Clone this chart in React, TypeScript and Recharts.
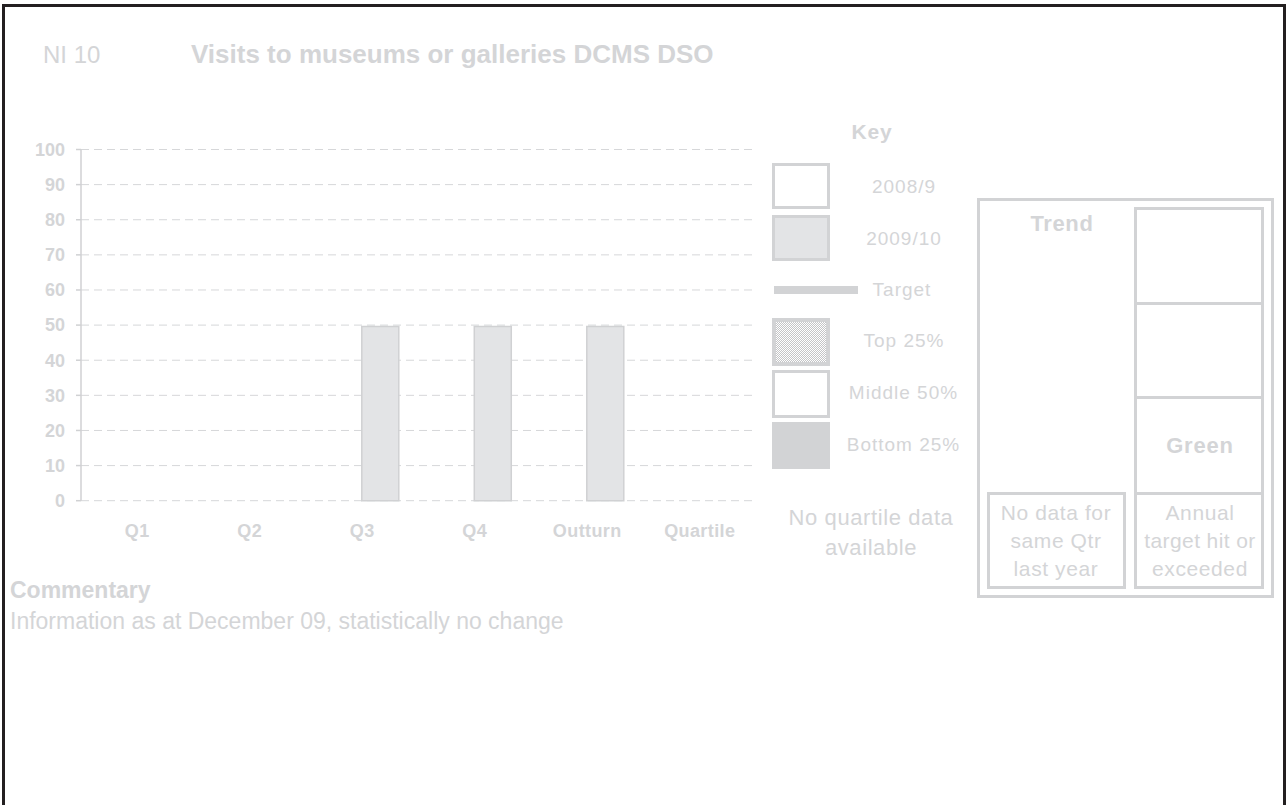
import React from "react";
import { BarChart, Bar, XAxis, YAxis, CartesianGrid } from "recharts";

const categories = ["Q1", "Q2", "Q3", "Q4", "Outturn", "Quartile"];
const values2008 = [null, null, null, null, null, null];
const values2009 = [null, null, 49.6, 49.6, 49.6, null];
const yTicks = [0, 10, 20, 30, 40, 50, 60, 70, 80, 90, 100];
const boundaryTicks = [0, 1, 2, 3, 4, 5, 6];

const data = categories.map((c, i) => ({ cat: c, prev: values2008[i], cur: values2009[i] }));

const FONT = '"Liberation Sans", Arial, sans-serif';
const TXT = "#d4d5d7";
const LINE = "#d0d1d3";
const BORDER = "#d2d3d5";

type TP = { x: number; y: number; size: number; bold?: boolean; anchor?: "start" | "middle"; ls?: number; children: React.ReactNode };
function Txt({ x, y, size, bold, anchor = "start", ls = 0, children }: TP) {
  const lh = size * 1.2;
  const style: React.CSSProperties = {
    position: "absolute",
    top: y - lh / 2,
    lineHeight: lh + "px",
    fontSize: size,
    fontWeight: bold ? "bold" : "normal",
    color: TXT,
    whiteSpace: "nowrap",
    letterSpacing: ls,
  };
  if (anchor === "middle") {
    style.left = x - 200;
    style.width = 400;
    style.textAlign = "center";
  } else {
    style.left = x;
  }
  return <div style={style}>{children}</div>;
}

function Box({ l, t, w, h, b = 3, fill = "#fff", bg }: { l: number; t: number; w: number; h: number; b?: number; fill?: string; bg?: string }) {
  return (
    <div
      style={{
        position: "absolute",
        left: l,
        top: t,
        width: w,
        height: h,
        boxSizing: "border-box",
        border: b ? `${b}px solid ${BORDER}` : "none",
        background: bg ?? fill,
      }}
    />
  );
}

export default function App() {
  return (
    <div
      style={{
        position: "absolute",
        left: 0,
        top: 0,
        width: 1286,
        height: 805,
        overflow: "hidden",
        background: "#fff",
        fontFamily: FONT,
      }}
    >
      <div
        style={{
          position: "absolute",
          left: 2,
          top: 4,
          width: 1284,
          height: 820,
          boxSizing: "border-box",
          borderTop: "3px solid #231f20",
          borderLeft: "3px solid #231f20",
          borderRight: "3px solid #231f20",
        }}
      />

      <Txt x={43} y={55} size={24}>NI 10</Txt>
      <Txt x={191} y={55} size={26} bold>Visits to museums or galleries DCMS DSO</Txt>

      <div style={{ position: "absolute", left: 0, top: 0 }}>
        <BarChart
          width={780}
          height={560}
          data={data}
          margin={{ top: 149.5, right: 24, left: 0, bottom: 19.3 }}
          barCategoryGap="16.7%"
          barGap={0}
        >
          <CartesianGrid
            xAxisId="cat"
            yAxisId="y"
            horizontal={true}
            vertical={false}
            stroke="#d6d7d9"
            strokeDasharray="8 5"
          />
          <XAxis
            xAxisId="bounds"
            type="number"
            domain={[0, 6]}
            ticks={boundaryTicks}
            allowDataOverflow
            height={0}
            tickSize={6}
            tickLine={{ stroke: LINE, strokeWidth: 1.5 }}
            axisLine={{ stroke: LINE, strokeWidth: 2 }}
            tickFormatter={() => ""}
            tick={{ fill: "none" }}
          />
          <XAxis
            xAxisId="cat"
            dataKey="cat"
            height={40}
            axisLine={false}
            tickLine={false}
            tickSize={0}
            tickMargin={24}
            interval={0}
            tick={{ fill: TXT, fontSize: 18, fontWeight: "bold", fontFamily: FONT, letterSpacing: 0.4 }}
          />
          <YAxis
            yAxisId="y"
            width={81}
            domain={[0, 100]}
            ticks={yTicks}
            interval={0}
            tickSize={5}
            tickMargin={11}
            axisLine={{ stroke: LINE, strokeWidth: 1.5 }}
            tickLine={{ stroke: LINE, strokeWidth: 1.5 }}
            tick={{ fill: TXT, fontSize: 18, fontWeight: "bold", fontFamily: FONT }}
          />
          <Bar xAxisId="cat" yAxisId="y" dataKey="prev" name="2008/9" fill="#ffffff" stroke={LINE} strokeWidth={1.5} isAnimationActive={false} />
          <Bar xAxisId="cat" yAxisId="y" dataKey="cur" name="2009/10" fill="#e3e4e6" stroke={LINE} strokeWidth={1.5} isAnimationActive={false} />
        </BarChart>
      </div>

      {/* Key */}
      <Txt x={872} y={132} size={21} bold anchor="middle" ls={0.8}>Key</Txt>
      <Box l={772} t={163} w={58} h={46} />
      <Txt x={904} y={187} size={19} anchor="middle" ls={1}>2008/9</Txt>
      <Box l={772} t={215} w={58} h={46} fill="#e3e4e6" />
      <Txt x={904} y={239} size={19} anchor="middle" ls={1}>2009/10</Txt>
      <Box l={774} t={286} w={84} h={8} b={0} fill={BORDER} />
      <Txt x={902} y={290} size={19} anchor="middle" ls={1}>Target</Txt>
      <Box
        l={772}
        t={318}
        w={58}
        h={48}
        b={4}
        bg="repeating-conic-gradient(#c4c5c7 0% 25%, #ffffff 0% 50%) 0 0 / 2px 2px"
      />
      <Txt x={904} y={341} size={19} anchor="middle" ls={1}>Top 25%</Txt>
      <Box l={772} t={370} w={58} h={48} />
      <Txt x={903.5} y={393} size={19} anchor="middle" ls={1}>Middle 50%</Txt>
      <Box l={772} t={422} w={58} h={47} b={0} fill={BORDER} />
      <Txt x={903.5} y={445} size={19} anchor="middle" ls={1}>Bottom 25%</Txt>
      <Txt x={871} y={518} size={22} anchor="middle" ls={0.6}>No quartile data</Txt>
      <Txt x={871} y={548} size={22} anchor="middle" ls={0.6}>available</Txt>

      {/* Trend panel */}
      <Box l={977} t={198} w={297} h={400} />
      <Box l={1134} t={207} w={130} h={98} />
      <Box l={1134} t={302} w={130} h={97} />
      <Box l={1134} t={396} w={130} h={99} />
      <Box l={1134} t={492} w={130} h={97} />
      <Box l={987} t={492} w={139} h={97} />
      <Txt x={1062} y={224} size={22} bold anchor="middle" ls={0.6}>Trend</Txt>
      <Txt x={1200} y={446} size={22} bold anchor="middle" ls={0.8}>Green</Txt>
      <Txt x={1056} y={513} size={21} anchor="middle" ls={0.6}>No data for</Txt>
      <Txt x={1056} y={541} size={21} anchor="middle" ls={0.6}>same Qtr</Txt>
      <Txt x={1056} y={569} size={21} anchor="middle" ls={0.6}>last year</Txt>
      <Txt x={1200} y={513} size={21} anchor="middle" ls={0.6}>Annual</Txt>
      <Txt x={1200} y={541} size={21} anchor="middle" ls={0.4}>target hit or</Txt>
      <Txt x={1200} y={569} size={21} anchor="middle" ls={0.6}>exceeded</Txt>

      {/* Commentary */}
      <Txt x={10} y={591} size={23} bold>Commentary</Txt>
      <Txt x={10} y={622} size={23}>Information as at December 09, statistically no change</Txt>
    </div>
  );
}
